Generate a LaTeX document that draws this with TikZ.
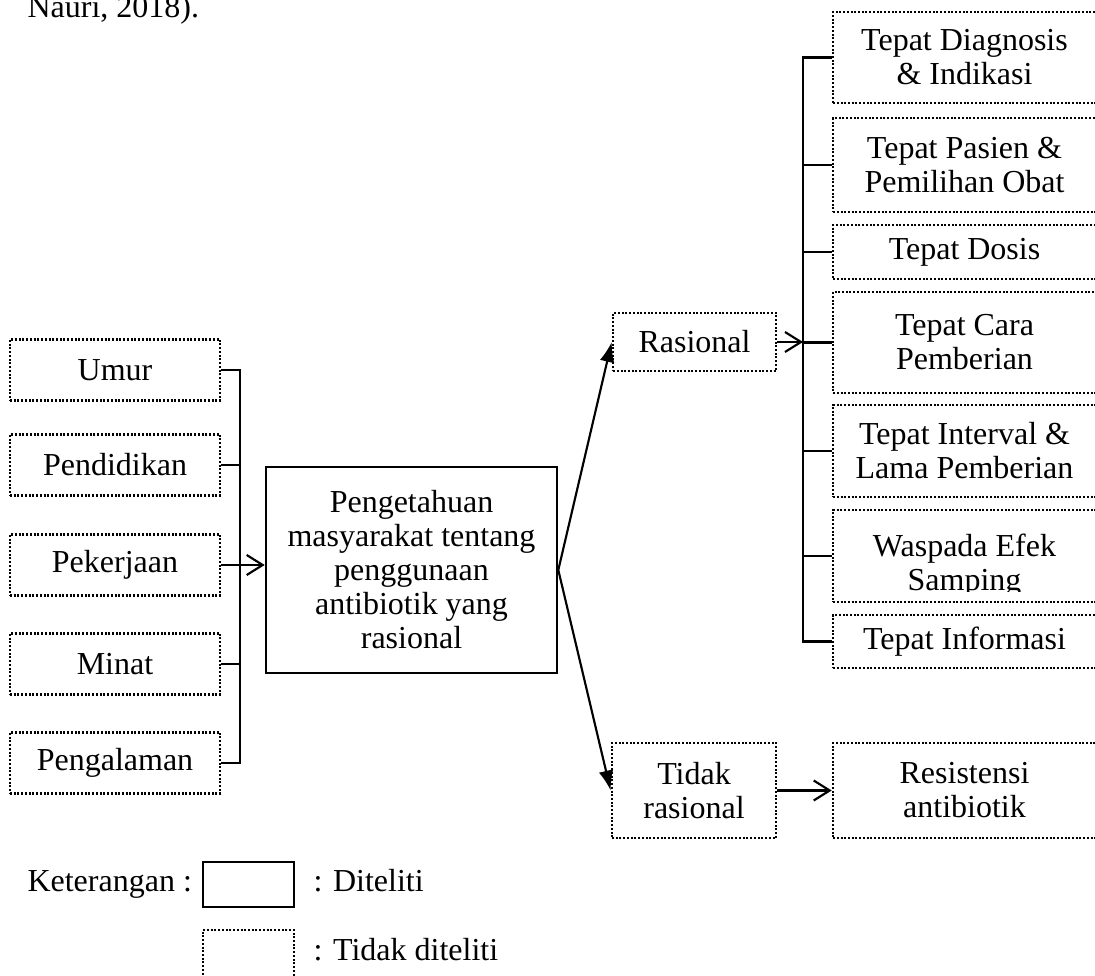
\documentclass[tikz,border=0pt]{standalone}
\usepackage{fontspec}
\setmainfont{Liberation Serif}
\usepackage{tikz}
\usetikzlibrary{positioning,arrows.meta,calc}

\begin{document}
\begin{tikzpicture}[
  x=0.375pt, y=-0.375pt,
  font=\fontsize{12}{12.75}\selectfont,
  % ── box styles ───────────────────────────────────────────
  box/.style={
    rectangle, align=center, inner sep=2pt
  },
  solidbox/.style={box, draw, line width=1pt},
  dotbox/.style={box, draw, line width=1pt,
    dash pattern=on 0.75pt off 0.65pt},
  leftbox/.style={dotbox, minimum width=78.75pt, minimum height=22.9pt},
  rightbox/.style={dotbox, minimum width=98.6pt},
  % ── link styles ──────────────────────────────────────────
  link/.style={line width=0.8pt},
  barb/.style={link, -{Straight Barb[length=6pt,width=7.5pt]}},
  fill arrow/.style={link, -{Latex[length=7.5pt,width=5.5pt]}},
  % ── label ────────────────────────────────────────────────
  lbl/.style={inner sep=0pt, anchor=base west},
]
\useasboundingbox (0,0) rectangle (1095,976);

%% ── TOP LINE (cut-off citation) ─────────────────────────────
\node[lbl] (cite) at (27,18) {Nauri, 2018).};

%% ── LEFT FACTORS ────────────────────────────────────────────
\node[leftbox] (umur)  at (115,370) {Umur};
\node[leftbox] (didik) at (115,465) {Pendidikan};
\node[leftbox] (kerja) at (115,565) {Pekerjaan};
\node[leftbox] (minat) at (115,664) {Minat};
\node[leftbox] (alam)  at (115,763) {Pengalaman};

%% ── CENTRAL BOX ─────────────────────────────────────────────
\node[solidbox, minimum width=109.1pt, minimum height=77.25pt] (pusat)
  at (411.5,570)
  {Pengetahuan\\masyarakat tentang\\penggunaan\\antibiotik yang\\rasional};

%% ── OUTCOMES ────────────────────────────────────────────────
\node[dotbox, minimum width=61.1pt, minimum height=21.75pt] (ras)
  at (694.5,342) {Rasional};
\node[dotbox, minimum width=61.5pt, minimum height=35.6pt] (tdk)
  at (694,790.5) {Tidak\\rasional};
\node[rightbox, minimum height=35.6pt] (resist)
  at (964.5,790.5) {Resistensi\\antibiotik};

%% ── RIGHT COLUMN (cut at the page edge) ─────────────────────
\node[rightbox, minimum height=34.1pt]  (diag)     at (964.5,57.5)
  {Tepat Diagnosis\\\& Indikasi};
\node[rightbox, minimum height=35.25pt] (pasien)   at (964.5,165)
  {Tepat Pasien \&\\Pemilihan Obat};
\node[rightbox, minimum height=20.25pt] (dosis)    at (964.5,252)
  {Tepat Dosis};
\node[rightbox, minimum height=37.9pt]  (cara)     at (964.5,342.5)
  {Tepat Cara\\Pemberian};
\node[rightbox, minimum height=34.5pt]  (interval) at (964.5,451)
  {Tepat Interval \&\\Lama Pemberian};
\node[rightbox, minimum height=34.5pt]  (wasp)     at (964.5,556) {};
\begin{scope}
  \clip (wasp.north west) rectangle ($(wasp.east)+(0,35)$);
  \node[box] (wasptxt) at (964.5,565.5) {Waspada Efek\\Samping};
\end{scope}
\node[rightbox, minimum height=19.9pt]  (info)     at (964.5,641.5)
  {Tepat Informasi};

%% ── BUS LINES ───────────────────────────────────────────────
\coordinate (lbus)  at (240,0);
\coordinate (spine) at (803,0);

\draw[link] (umur.east) -- (umur.east -| lbus)
  -- (alam.east -| lbus) -- (alam.east);
\foreach \n in {didik,minat}{
  \draw[link] (\n.east) -- (\n.east -| lbus);}
\draw[barb] (kerja.east) -- (kerja.east -| pusat.west);

\draw[link] (diag.west) -- (diag.west -| spine)
  -- (info.west -| spine) -- (info.west);
\foreach \n in {pasien,dosis,cara,interval,wasp}{
  \draw[link] (\n.west) -- (\n.west -| spine);}

%% ── ARROWS ──────────────────────────────────────────────────
\draw[fill arrow] (pusat.east) -- (ras.west);
\draw[fill arrow] (pusat.east) -- (tdk.west);
\draw[barb] (ras.east) -- (ras.east -| spine);
\draw[barb] (tdk.east) -- (resist.west);

%% ── LEGEND ──────────────────────────────────────────────────
\node[lbl] (ket) at (27,891) {Keterangan :};
\node[solidbox, minimum width=34.1pt, minimum height=16.9pt] (legA)
  at (248.5,884.5) {};
\node[dotbox, minimum width=34.1pt, minimum height=18pt] (legB)
  at (248.5,954) {};
\node[lbl] (legAtxt) at (313,891) {: Diteliti};
\node[lbl] (legBtxt) at (313,960) {: Tidak diteliti};

\end{tikzpicture}
\end{document}
